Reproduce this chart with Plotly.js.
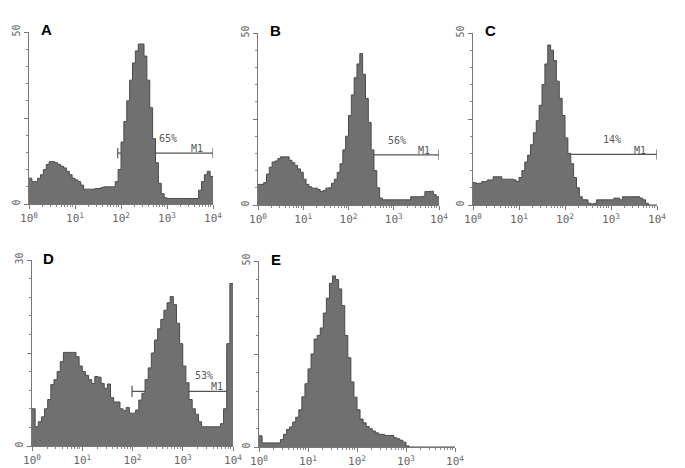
<!DOCTYPE html>
<html>
<head>
<meta charset="utf-8">
<script src="https://cdn.plot.ly/plotly-3.0.1.min.js"></script>
<style>
  html, body { margin: 0; padding: 0; background: #fff; }
  #chart { width: 685px; height: 468px; }
</style>
</head>
<body>
<div id="chart"></div>
<script>
// 64 channels per histogram, 16 per decade, from 10^0 to 10^4
const binsPerDecade = 16;
const decadeTicks = [1, 10, 100, 1000, 10000];
const decadeLabels = ['10<sup>0</sup>', '10<sup>1</sup>', '10<sup>2</sup>', '10<sup>3</sup>', '10<sup>4</sup>'];

const countsA = [7.5, 6.5, 6.5, 7.5, 8.5, 10, 11.5, 12.3, 12.3, 12, 11.5, 11, 10.5, 9.5, 8.5, 7.5,
  7, 6.5, 5.5, 4.3, 4.3, 4.3, 4.3, 4.5, 4.5, 4.8, 5, 5, 5, 5, 6.5, 10,
  18, 24, 30, 36, 41, 44.5, 46.5, 46.5, 43, 36, 28, 19, 12, 6, 3, 1.8,
  1.6, 1.6, 1.6, 1.6, 1.6, 1.6, 1.6, 1.6, 1.6, 1.6, 1.6, 4, 6.5, 8.5, 9.5, 8];
const countsB = [6, 6, 6.5, 9, 11, 12.5, 12.8, 13.5, 14, 14, 14, 13, 12.3, 11.5, 10.5, 9.5,
  7.5, 6, 5.3, 4.9, 4.9, 4.5, 3.9, 4.2, 4.9, 5, 6.3, 7.5, 9.5, 12, 16, 20,
  26, 32, 37, 41, 44, 38, 31, 24, 16, 10, 5, 2, 1.5, 1.5, 1.5, 1.5,
  1.5, 1.5, 1.5, 1.5, 1.5, 1.5, 2.4, 2.4, 2.4, 2.4, 2.5, 3.9, 3.9, 4, 3, 2.4];
const countsC = [6.5, 6.3, 6.3, 6.8, 6.8, 7.3, 7.3, 8.2, 8.2, 8.2, 7.5, 7.5, 7.5, 7.5, 7.3, 6.8,
  8, 10, 12.5, 14.5, 17.5, 21, 24.5, 29, 35, 41, 46.5, 45, 42, 36, 31, 26,
  19.5, 15, 12, 8, 5, 2.4, 1.5, 1.5, 0.5, 0.3, 0.5, 1.5, 1.5, 1.5, 1.5, 1.5,
  1.5, 2, 2, 1.5, 2.4, 2.4, 2.4, 2.4, 2.4, 2.4, 2, 1.5, 0.5, 0, 0, 0];
const countsD = [6, 3.1, 3.9, 4.7, 6, 7.5, 9.9, 10.7, 12, 13.6, 15.1, 15.1, 15.1, 15.1, 14.4, 12.9,
  12, 11.4, 10.7, 10.1, 11.2, 11.1, 10.1, 9.3, 10, 7.8, 7.1, 7.1, 6, 5.7, 6.2, 5.3,
  5.3, 5.8, 7.4, 8.5, 10.7, 12.6, 15, 17.1, 18.9, 20.4, 21.9, 23.1, 24.1, 22.8, 19.8, 16.5,
  12.9, 10.2, 7.5, 6, 5.1, 3.9, 3.1, 3.1, 3.1, 3.1, 3.1, 3.1, 3.6, 6, 16.5, 26.2];
const countsE = [3, 1.1, 1.1, 1.1, 1.1, 1.1, 1.1, 2, 3.4, 4.7, 5.4, 6.7, 8, 10, 13.5, 17,
  21, 25, 29, 30, 32, 36, 40, 44, 46, 45, 42.5, 38, 30, 24, 17.5, 13.4,
  10, 7.5, 6.5, 5.5, 4.9, 4.3, 3.8, 3.4, 3.4, 3.1, 3.1, 3.1, 2.5, 2.2, 1.8, 1.3,
  0.3, 0, 0, 0, 0, 0, 0, 0, 0, 0, 0, 0, 0, 0, 0, 0];

const panelLetters = ['A', 'B', 'C', 'D', 'E'];
const panelCounts = [countsA, countsB, countsC, countsD, countsE];
const panelYMax = [50, 50, 50, 30, 50];
// M1 marker per panel (null = none)
const markerLevels = [14.8, 14.6, 14.7, 8.8, null];
const markerLeft = [85, 80, 100, 98, null];
const markerPct = ['65%', '56%', '14%', '53%', null];
const pctLabelX = [1050, 1150, 1050, 2700, null];
const m1LabelX = [4500, 4700, 4200, 4700, null];

// panel boxes in page pixels: [left, right, top, bottom]
const boxes = [
  [29, 213, 32, 204],
  [258, 439, 33, 205],
  [473, 657, 33, 205],
  [32, 233, 260, 446],
  [259, 455, 261, 447]
];
const W = 685, H = 468;

const minorVals = [];
for (let d = 1; d < 10000; d *= 10) {
  for (let k = 2; k <= 9; k++) minorVals.push(d * k);
}

const data = [];
const layout = {
  width: W, height: H,
  margin: { l: 0, r: 0, t: 0, b: 0 },
  paper_bgcolor: '#fff',
  plot_bgcolor: 'rgba(0,0,0,0)',
  showlegend: false,
  shapes: [],
  annotations: []
};

panelCounts.forEach(function(counts, p) {
  const xs = [], ys = [];
  counts.forEach(function(c, i) {
    xs.push(Math.pow(10, i / binsPerDecade));
    ys.push(c);
  });
  xs.push(10000);
  ys.push(counts[counts.length - 1]);
  const n = p === 0 ? '' : String(p + 1);
  data.push({
    x: xs, y: ys,
    xaxis: 'x' + n, yaxis: 'y' + n,
    type: 'scatter', mode: 'lines',
    line: { shape: 'hv', color: '#4a4a4a', width: 1 },
    fill: 'tozeroy', fillcolor: '#707070',
    hoverinfo: 'skip'
  });

  const b = boxes[p];
  const ymax = panelYMax[p];
  const axFont = { family: 'DejaVu Sans Mono', size: 11, color: '#666' };
  layout['xaxis' + n] = {
    type: 'log', range: [0, 4],
    domain: [b[0] / W, b[1] / W],
    anchor: 'y' + n,
    showgrid: false, zeroline: false,
    showline: true, linecolor: '#777', linewidth: 1,
    ticks: 'outside', ticklen: 4, tickcolor: '#777',
    tickvals: decadeTicks, ticktext: decadeLabels,
    tickfont: axFont,
    minor: { tickvals: minorVals, ticks: 'outside', ticklen: 2, tickcolor: '#888', showgrid: false }
  };
  layout['yaxis' + n] = {
    range: [0, ymax],
    domain: [1 - b[3] / H, 1 - b[2] / H],
    anchor: 'x' + n,
    showgrid: false, zeroline: false,
    showline: true, linecolor: '#777', linewidth: 1,
    ticks: 'outside', ticklen: 4, tickcolor: '#777',
    tickvals: [0, ymax / 2, ymax], ticktext: ['0', '', String(ymax)],
    tickangle: -90, tickfont: { family: 'DejaVu Sans Mono', size: 10, color: '#666' },
    minor: { dtick: ymax / 10, ticks: 'outside', ticklen: 2, tickcolor: '#888', showgrid: false }
  };

  layout.annotations.push({
    text: '<b>' + panelLetters[p] + '</b>',
    xref: 'paper', yref: 'paper',
    x: (b[0] + 17) / W, y: 1 - (b[2] - 2) / H,
    xanchor: 'center', yanchor: 'middle', showarrow: false,
    font: { family: 'Liberation Sans', size: 15, color: '#000' }
  });

  if (markerLevels[p] !== null) {
    const lv = markerLevels[p];
    const tick = ymax * 0.03;
    const xr = 'x' + n, yr = 'y' + n;
    const lineStyle = { color: '#555', width: 1.2 };
    const txtFont = { family: 'DejaVu Sans Mono', size: 10, color: '#595959' };
    layout.shapes.push(
      { type: 'line', xref: xr, yref: yr, x0: markerLeft[p], x1: 10000, y0: lv, y1: lv, line: lineStyle, layer: 'below' },
      { type: 'line', xref: xr, yref: yr, x0: markerLeft[p], x1: markerLeft[p], y0: lv - tick, y1: lv + tick, line: lineStyle, layer: 'below' },
      { type: 'line', xref: xr, yref: yr, x0: 10000, x1: 10000, y0: lv - tick, y1: lv + tick, line: lineStyle, layer: 'below' }
    );
    layout.annotations.push(
      { text: markerPct[p], xref: xr, yref: yr, x: Math.log10(pctLabelX[p]), y: lv + ymax * 0.085,
        showarrow: false, font: txtFont },
      { text: 'M1', xref: xr, yref: yr, x: Math.log10(m1LabelX[p]), y: lv + ymax * 0.025,
        showarrow: false, font: txtFont }
    );
  }
});

Plotly.newPlot(document.getElementById('chart'), data, layout, { staticPlot: true });
</script>
</body>
</html>
